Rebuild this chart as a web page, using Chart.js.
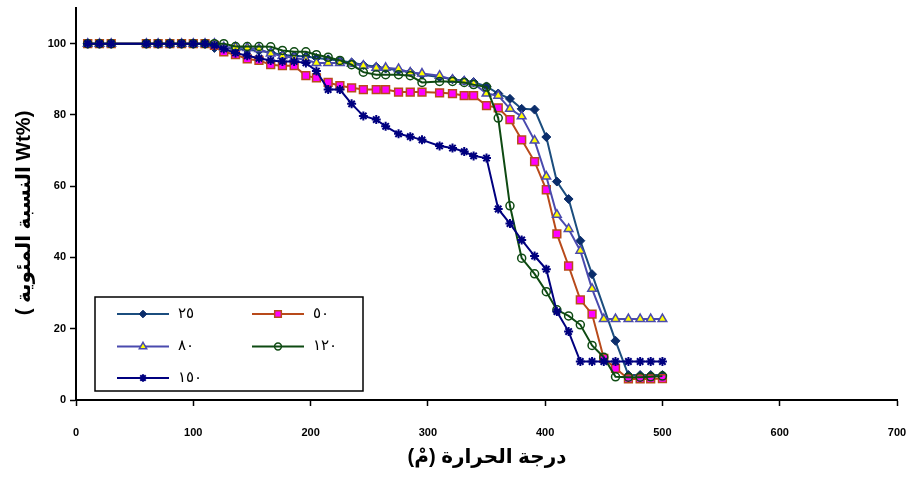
<!DOCTYPE html>
<html><head><meta charset="utf-8">
<script src="https://cdn.jsdelivr.net/npm/chart.js@4.4.1/dist/chart.umd.min.js"></script>
<style>html,body{margin:0;padding:0;background:#fff}#wrap{width:909px;height:479px;position:relative}</style>
</head><body><div id="wrap"><canvas id="c"></canvas></div>
<script>
// ---- data ----
const temps = [10, 20, 30, 60, 70, 80, 90, 100, 110, 118, 126, 136, 146, 156, 166, 176, 186, 196, 205, 215, 225, 235, 245, 256, 264, 275, 285, 295, 310, 321, 331, 339, 350, 360, 370, 380, 391, 401, 410, 420, 430, 440, 450, 460, 471, 481, 490, 500];
const s25 = [100, 100, 100, 100, 100, 100, 100, 100, 100, 98.8, 98.8, 98.5, 98.3, 98, 97.5, 96.8, 96.6, 96.4, 96, 95.6, 95.2, 94.7, 94, 93.5, 93, 92.5, 92, 91.3, 90.6, 90, 89.6, 89.2, 88, 86, 84.5, 81.7, 81.5, 73.8, 61.3, 56.4, 44.7, 35.3, null, 16.6, 7, 7, 7, 7];
const s50 = [100, 100, 100, 100, 100, 100, 100, 100, 100, 99.5, 97.7, 96.9, 95.7, 95.3, 94.1, 93.8, 93.8, 91, 90.4, 89.1, 88.2, 87.6, 87.1, 87.1, 87.1, 86.4, 86.4, 86.4, 86.2, 86, 85.4, 85.4, 82.6, 82, 78.7, 73, 66.9, 59, 46.6, 37.6, 28.1, 24.1, 11.7, 8.9, 5.9, 5.9, 5.9, 6];
const s80 = [100, 100, 100, 100, 100, 100, 100, 100, 100, 100, 99, 99, 98.8, 98.5, 97.2, 96.5, 96, 95.5, 94.6, 94.6, 94.6, 94.4, 93.8, 93.2, 93.2, 92.9, 91.9, 91.6, 91, 89.9, 89.4, 88.8, 86, 85.4, 81.7, 79.6, 72.8, 62.7, 52, 48, 41.9, 31.2, 22.7, 22.7, 22.7, 22.7, 22.7, 22.7];
const s120 = [100, 100, 100, 100, 100, 100, 100, 100, 100, 100, 100, 99.2, 99.2, 99.2, 99.1, 98.1, 97.7, 97.7, 96.9, 96.2, 95.3, 94.1, 92, 91.3, 91.3, 91.3, 91, 89.1, 89.4, 89.4, 89.1, 88.5, 87.8, 79.1, 54.5, 39.8, 35.4, 30.4, 25.3, 23.6, 21.1, 15.3, 12, 6.5, 6.4, 6.4, 6.5, 6.7];
const s150 = [100, 100, 100, 100, 100, 100, 100, 100, 100, 99.5, 98.5, 97.4, 96.6, 95.9, 95.3, 95, 95, 94.6, 92.3, 87.1, 87.1, 83.1, 79.7, 78.7, 76.8, 74.7, 73.9, 73, 71.3, 70.7, 69.7, 68.5, 67.9, 53.6, 49.5, 44.9, 40.4, 36.7, 24.8, 19.2, 10.8, 10.8, 10.8, 10.8, 10.8, 10.8, 10.8, 10.8];
const seriesLabels = ['٢٥', '٥٠', '٨٠', '١٢٠', '١٥٠'];
const xTitle = 'درجة الحرارة (مْ)';
const yTitle = '( النسبة المئوية Wt%)';

// ---- styles ----
const seriesValues = [s25, s50, s80, s120, s150];
const styles = [
  {line:'#1B4D7E', fill:'#0B2D6B', border:'#0B2D6B', ps:'rectRot', r:4.5, bw:1},
  {line:'#B84A1A', fill:'#FF00FF', border:'#B84A1A', ps:'rect', r:5.5, bw:1.5},
  {line:'#4A4AAE', fill:'#FFFF00', border:'#4A4AAE', ps:'triangle', r:5, bw:1.5},
  {line:'#0E4A12', fill:'rgba(0,0,0,0)', border:'#0E4A12', ps:'circle', r:4, bw:1.5},
  {line:'#00007F', fill:'#00007F', border:'#00007F', ps:'star', r:4.5, bw:2}
];

const datasets = seriesValues.map((arr, k) => ({
  label: seriesLabels[k],
  data: temps.map((t, i) => ({x: t, y: arr[i]})),
  borderColor: styles[k].line,
  borderWidth: 2,
  backgroundColor: styles[k].fill,
  pointStyle: styles[k].ps,
  pointRadius: styles[k].r,
  pointBackgroundColor: styles[k].fill,
  pointBorderColor: styles[k].border,
  pointBorderWidth: styles[k].bw,
  spanGaps: true,
  tension: 0,
  order: 5 - k
}));

const legendPlugin = {
  id: 'customLegend',
  afterDraw(chart) {
    const ctx = chart.ctx;
    ctx.save();
    ctx.fillStyle = '#fff';
    ctx.fillRect(95, 297, 268, 94);
    ctx.strokeStyle = '#000';
    ctx.lineWidth = 1.5;
    ctx.strokeRect(95, 297, 268, 94);
    const pos = [[117, 314], [252, 314], [117, 346.5], [252, 346.5], [117, 378]];
    pos.forEach((p, k) => {
      const st = styles[k];
      const [x0, y] = p;
      ctx.strokeStyle = st.line;
      ctx.lineWidth = 2;
      ctx.beginPath(); ctx.moveTo(x0, y); ctx.lineTo(x0 + 52, y); ctx.stroke();
      ctx.fillStyle = st.fill;
      ctx.strokeStyle = st.border;
      ctx.lineWidth = st.bw;
      Chart.helpers.drawPoint(ctx, {pointStyle: st.ps, radius: st.r * 0.85, borderWidth: st.bw, rotation: 0}, x0 + 26, y);
      ctx.fillStyle = '#000';
      ctx.font = '15px "DejaVu Sans", sans-serif';
      ctx.textAlign = 'left';
      ctx.textBaseline = 'middle';
      ctx.direction = 'ltr';
      ctx.fillText(seriesLabels[k], x0 + 61, y);
    });
    // axis titles
    ctx.fillStyle = '#000';
    ctx.font = 'bold 20px "Liberation Sans", "DejaVu Sans", sans-serif';
    ctx.textAlign = 'center';
    ctx.textBaseline = 'middle';
    ctx.direction = 'rtl';
    ctx.fillText(xTitle, 487, 457);
    ctx.translate(24, 213);
    ctx.rotate(-Math.PI / 2);
    ctx.direction = 'ltr';
    ctx.fillText(yTitle, 0, 0);
    ctx.restore();
  }
};

const tickFont = {family: '"Liberation Sans", Arial, sans-serif', size: 11, weight: 'bold'};

new Chart(document.getElementById('c'), {
  type: 'line',
  data: {datasets},
  plugins: [legendPlugin],
  options: {
    responsive: true,
    maintainAspectRatio: false,
    animation: false,
    layout: {padding: {left: 0, top: 8, right: 12, bottom: 0}},
    plugins: {legend: {display: false}, tooltip: {enabled: false}},
    scales: {
      x: {
        type: 'linear', min: 0, max: 700,
        ticks: {stepSize: 100, color: '#000', font: tickFont, padding: 20, maxRotation: 0},
        grid: {display: true, drawOnChartArea: false, drawTicks: true, tickLength: 6, color: '#000', tickColor: '#000', tickWidth: 1.5},
        border: {display: true, color: '#000', width: 2},
        afterFit(s) { s.height = 79; s.paddingLeft = 0; s.paddingRight = 0; }
      },
      y: {
        type: 'linear', min: 0, max: 110,
        ticks: {stepSize: 20, includeBounds: false, color: '#000', font: tickFont, padding: 4},
        grid: {display: true, drawOnChartArea: false, drawTicks: true, tickLength: 6, color: '#000', tickColor: '#000', tickWidth: 1.5},
        border: {display: true, color: '#000', width: 2},
        afterFit(s) { s.width = 76; s.paddingTop = 0; s.paddingBottom = 0; }
      }
    }
  }
});
</script>
</body></html>
